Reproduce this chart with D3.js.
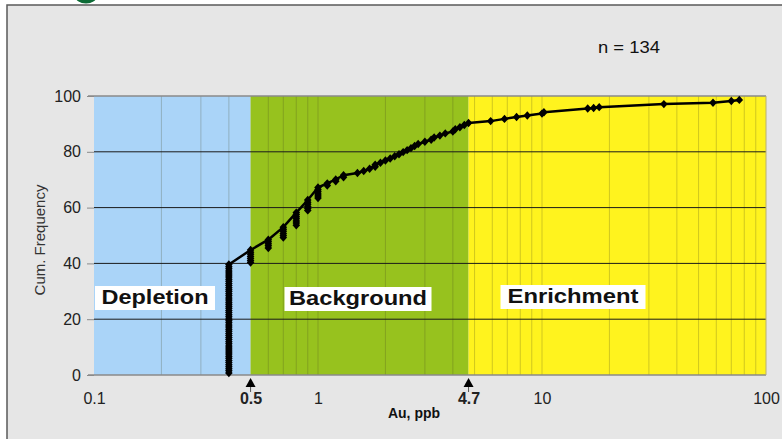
<!DOCTYPE html>
<html>
<head>
<meta charset="utf-8">
<script src="https://cdn.jsdelivr.net/npm/d3@7"></script>
<style>
  html, body { margin: 0; padding: 0; background: #ffffff; }
  svg { display: block; }
  text { font-family: "Liberation Sans", Arial, Helvetica, sans-serif; }
</style>
</head>
<body>
<svg id="chart" width="782" height="439"></svg>
<script>
// ---- Data ----
// Au concentrations (ppb), sorted, n = 134
const auValues = [
  0.4,0.4,0.4,0.4,0.4,0.4,0.4,0.4,0.4,0.4,
  0.4,0.4,0.4,0.4,0.4,0.4,0.4,0.4,0.4,0.4,
  0.4,0.4,0.4,0.4,0.4,0.4,0.4,0.4,0.4,0.4,
  0.4,0.4,0.4,0.4,0.4,0.4,0.4,0.4,0.4,0.4,
  0.4,0.4,0.4,0.4,0.4,0.4,0.4,0.4,0.4,0.4,
  0.4,0.4,0.4,
  0.5,0.5,0.5,0.5,0.5,0.5,0.5,
  0.6,0.6,0.6,0.6,0.6,
  0.7,0.7,0.7,0.7,0.7,0.7,
  0.8,0.8,0.8,0.8,0.8,0.8,0.8,
  0.9,0.9,0.9,0.9,0.9,0.9,
  1.0,1.0,1.0,1.0,1.0,1.0,
  1.1,1.1,1.2,1.2,1.3,1.3,1.5,1.6,1.7,1.8,
  1.8,1.9,2.0,2.1,2.2,2.3,2.4,2.5,2.6,2.7,
  2.8,3.0,3.2,3.3,3.5,3.7,4.0,4.1,4.3,4.5,
  4.7,
  5.9,6.8,7.7,8.6,10.0,10.2,16.0,17.0,18.0,35.0,
  58.0,70.0,76.0
];
// Cumulative frequency (%) of each sample
const cumFreq = [
  0.7,1.5,2.2,3.0,3.7,4.5,5.2,6.0,6.7,7.5,
  8.2,9.0,9.7,10.4,11.2,11.9,12.7,13.4,14.2,14.9,
  15.7,16.4,17.2,17.9,18.7,19.4,20.1,20.9,21.6,22.4,
  23.1,23.9,24.6,25.4,26.1,26.9,27.6,28.4,29.1,29.9,
  30.6,31.3,32.1,32.8,33.6,34.3,35.1,35.8,36.6,37.3,
  38.1,38.8,39.6,
  40.3,41.0,41.8,42.5,43.3,44.0,44.8,
  45.5,46.3,47.0,47.8,48.5,
  49.3,50.0,50.7,51.5,52.2,53.0,
  53.7,54.5,55.2,56.0,56.7,57.5,58.2,
  59.0,59.7,60.4,61.2,61.9,62.7,
  63.4,64.2,64.9,65.7,66.4,67.2,
  67.9,68.7,69.4,70.1,70.9,71.6,72.4,73.1,73.9,74.6,
  75.4,76.1,76.9,77.6,78.4,79.1,79.9,80.6,81.3,82.1,
  82.8,83.6,84.3,85.1,85.8,86.6,87.3,88.1,88.8,89.6,
  90.3,
  91.0,91.8,92.5,93.0,93.7,94.2,95.5,95.7,96.0,97.1,
  97.6,98.2,98.6
];
const sampleCount = 134;

// Population regions (Au, ppb)
const regionNames = ["Depletion", "Background", "Enrichment"];
const regionBounds = [0.1, 0.5, 4.7, 100];

// Axis ticks
const xTickValues = [0.1, 0.5, 1, 4.7, 10, 100];
const xTickLabels = ["0.1", "0.5", "1", "4.7", "10", "100"];
const thresholdValues = [0.5, 4.7];
const yTickValues = [0, 20, 40, 60, 80, 100];
const minorGridValues = [0.2,0.3,0.4,0.6,0.7,0.8,0.9,1,2,3,4,5,6,7,8,9,10,20,30,40,50,60,70,80,90];

// ---- Drawing ----
const svg = d3.select("#chart");
const W = 782, H = 439;
const FONT = "'Liberation Sans', Arial, Helvetica, sans-serif";

// outer panel
svg.append("rect").attr("x", 7).attr("y", 5).attr("width", W).attr("height", H)
  .attr("fill", "#e6e6e6").attr("stroke", "#5a5a5a").attr("stroke-width", 1.5);
// cropped logo at the top
svg.append("ellipse").attr("cx", 86).attr("cy", -4).attr("rx", 11).attr("ry", 7.5)
  .attr("fill", "#0d6b36");

const x = d3.scaleLog().domain([0.1, 100]).range([94, 766]);
const y = d3.scaleLinear().domain([0, 100]).range([375, 96]);

const regionColors = ["#aad4f8", "#97c21e", "#fff31e"];
const plot = svg.append("g");

// region bands
plot.selectAll("rect.region").data(regionNames).enter().append("rect")
  .attr("class", "region")
  .attr("x", (d, i) => x(regionBounds[i]))
  .attr("y", y(100))
  .attr("width", (d, i) => x(regionBounds[i + 1]) - x(regionBounds[i]))
  .attr("height", y(0) - y(100))
  .attr("fill", (d, i) => regionColors[i]);

// minor vertical grid lines
plot.selectAll("line.vgrid").data(minorGridValues).enter().append("line")
  .attr("class", "vgrid")
  .attr("x1", d => x(d)).attr("x2", d => x(d))
  .attr("y1", y(100)).attr("y2", y(0))
  .attr("stroke", "rgba(70,70,30,0.25)").attr("stroke-width", 1);

// horizontal grid lines
plot.selectAll("line.hgrid").data(yTickValues.filter(v => v > 0 && v < 100)).enter().append("line")
  .attr("class", "hgrid")
  .attr("x1", x(0.1)).attr("x2", x(100))
  .attr("y1", d => y(d)).attr("y2", d => y(d))
  .attr("stroke", "#1a1a1a").attr("stroke-width", 1);

// top and bottom border lines
svg.append("line").attr("x1", 88).attr("x2", x(100)).attr("y1", y(100)).attr("y2", y(100))
  .attr("stroke", "#8a8a8a").attr("stroke-width", 1.5);
svg.append("line").attr("x1", 88).attr("x2", x(100)).attr("y1", y(0)).attr("y2", y(0))
  .attr("stroke", "#8a8a8a").attr("stroke-width", 1.5);
svg.append("line").attr("x1", x(100)).attr("x2", x(100)).attr("y1", y(100)).attr("y2", y(0))
  .attr("stroke", "#b8b070").attr("stroke-width", 1);

// Y axis
const yAxis = d3.axisLeft(y).tickValues(yTickValues).tickSize(7).tickPadding(6);
const gy = svg.append("g").attr("transform", `translate(${x(0.1)},0)`).call(yAxis);
gy.select(".domain").remove();
gy.selectAll(".tick line").attr("stroke", "#8a8a8a");
gy.selectAll(".tick text").attr("font-size", 16).attr("fill", "#222").attr("font-family", FONT);

// X axis
const xAxis = d3.axisBottom(x).tickValues(xTickValues)
  .tickFormat((d, i) => xTickLabels[i]).tickSize(0).tickPadding(18);
const gx = svg.append("g").attr("transform", `translate(0,${y(0)})`).call(xAxis);
gx.select(".domain").remove();
gx.selectAll(".tick text").attr("font-size", 16).attr("fill", "#222").attr("font-family", FONT)
  .attr("font-weight", d => thresholdValues.includes(d) ? "bold" : "normal");

// threshold arrows
const arrows = svg.append("g");
thresholdValues.forEach(v => {
  const cx = x(v);
  arrows.append("line").attr("x1", cx).attr("x2", cx).attr("y1", y(0) + 8).attr("y2", y(0) + 17)
    .attr("stroke", "#555").attr("stroke-width", 1);
  arrows.append("path")
    .attr("d", `M${cx},${y(0) + 3} L${cx + 5},${y(0) + 12} L${cx - 5},${y(0) + 12} Z`)
    .attr("fill", "#000");
});

// axis titles
svg.append("text").attr("x", 414).attr("y", 418).attr("text-anchor", "middle")
  .attr("font-size", 14).attr("font-weight", "bold").attr("fill", "#111").text("Au, ppb");
svg.append("text").attr("transform", "translate(45,240) rotate(-90)").attr("text-anchor", "middle")
  .attr("font-size", 15).attr("fill", "#333").text("Cum. Frequency");

// sample count
svg.append("text").attr("x", 629).attr("y", 53).attr("text-anchor", "middle")
  .attr("font-size", 17).attr("fill", "#111")
  .attr("textLength", 62).attr("lengthAdjust", "spacingAndGlyphs")
  .text("n = " + sampleCount);

// region labels in white boxes
const labelCenters = [155, 358, 573];
const labelBoxW = [120, 147, 145];
const labelTextW = [107, 138, 131];
const labelBoxY = [286, 287, 285];
regionNames.forEach((name, i) => {
  svg.append("rect").attr("x", labelCenters[i] - labelBoxW[i] / 2).attr("y", labelBoxY[i])
    .attr("width", labelBoxW[i]).attr("height", 24).attr("fill", "#ffffff");
  svg.append("text").attr("x", labelCenters[i]).attr("y", labelBoxY[i] + 18)
    .attr("text-anchor", "middle").attr("font-size", 20).attr("font-weight", "bold")
    .attr("fill", "#111")
    .attr("textLength", labelTextW[i]).attr("lengthAdjust", "spacingAndGlyphs")
    .text(name);
});

// cumulative curve: line through the top of each value cluster
const points = auValues.map((v, i) => ({ v, f: cumFreq[i] }));
const tops = Array.from(d3.rollup(points, g => d3.max(g, p => p.f), p => p.v),
  ([v, f]) => ({ v, f })).sort((a, b) => a.v - b.v);
const linePts = [points[0]].concat(tops);
const line = d3.line().x(d => x(d.v)).y(d => y(d.f));
svg.append("path").datum(linePts).attr("d", line)
  .attr("fill", "none").attr("stroke", "#000").attr("stroke-width", 2.5)
  .attr("stroke-linejoin", "round");

// diamond markers
svg.append("g").selectAll("path.pt").data(points).enter().append("path")
  .attr("class", "pt")
  .attr("transform", d => `translate(${x(d.v)},${y(d.f)})`)
  .attr("d", "M0,-4.2 L3.8,0 L0,4.2 L-3.8,0 Z")
  .attr("fill", "#000");
</script>
</body>
</html>
